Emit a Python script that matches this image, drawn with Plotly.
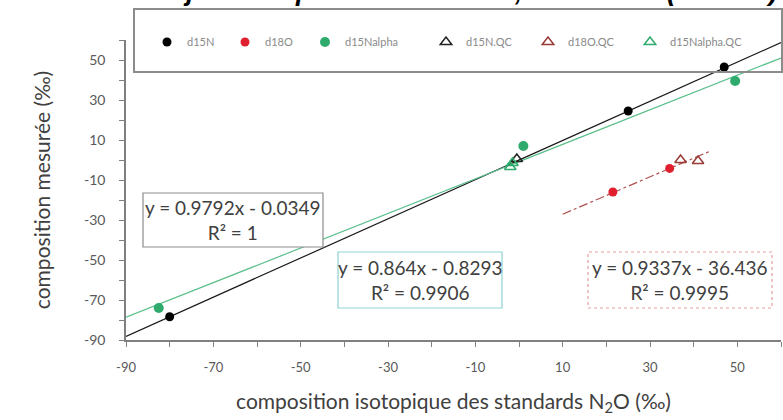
import plotly.graph_objects as go

# ---- data ----
d15N_x = [-80, 25, 47]
d15N_y = [-78.4, 24.5, 46.5]
d18O_x = [21.5, 34.5]
d18O_y = [-16, -4.2]
d15Na_x = [-82.5, 1, 49.5]
d15Na_y = [-74, 7, 39.5]
d15N_qc_x = [-0.5]
d15N_qc_y = [0.5]
d18O_qc_x = [37, 41]
d18O_qc_y = [0, -0.5]
d15Na_qc_x = [-2, -1.5]
d15Na_qc_y = [-3.5, -1.5]

# trendlines (slope, intercept, x-extent)
trend_15N = (0.9792, -0.0349, [-90, 60])
trend_15Na = (0.864, -0.8293, [-90, 60])
trend_18O = (0.9337, -36.436, [10, 44])

x_ticks = [-90, -70, -50, -30, -10, 10, 30, 50]
y_ticks = [-90, -70, -50, -30, -10, 10, 30, 50]
x_ticklabels = [str(v) for v in x_ticks]
y_ticklabels = [str(v) for v in y_ticks]

BLACK = "#000000"
RED = "#e0202e"
GREEN = "#2eab6c"

L, R, T, B = 126, 2, 40, 80
W, H = 783, 420
pw, ph = W - L - R, H - T - B

def px(xp):
    return (xp - L) / pw

def py(yp):
    return (H - B - yp) / ph

FONT = "Lato, 'Open Sans', sans-serif"

fig = go.Figure()

def tl(t):
    m, b, xs = t
    return xs, [m * x + b for x in xs]

fx, fy = tl(trend_15N)
fig.add_trace(go.Scatter(x=fx, y=fy, mode="lines", line=dict(color="#1a1a1a", width=1.2),
                         showlegend=False, hoverinfo="skip"))
fx, fy = tl(trend_15Na)
fig.add_trace(go.Scatter(x=fx, y=fy, mode="lines", line=dict(color="#5cbf8c", width=1.2),
                         showlegend=False, hoverinfo="skip"))
fx, fy = tl(trend_18O)
fig.add_trace(go.Scatter(x=fx, y=fy, mode="lines", line=dict(color="#b05050", width=1.2, dash="dashdot"),
                         showlegend=False, hoverinfo="skip"))

fig.add_trace(go.Scatter(x=d15N_x, y=d15N_y, mode="markers", name="d15N", legend="legend",
                         marker=dict(color=BLACK, size=9)))
fig.add_trace(go.Scatter(x=d18O_x, y=d18O_y, mode="markers", name="d18O", legend="legend2",
                         marker=dict(color=RED, size=9)))
fig.add_trace(go.Scatter(x=d15Na_x, y=d15Na_y, mode="markers", name="d15Nalpha", legend="legend3",
                         marker=dict(color=GREEN, size=10)))
fig.add_trace(go.Scatter(x=d15N_qc_x, y=d15N_qc_y, mode="markers", name="d15N.QC", legend="legend4",
                         marker=dict(color="#222222", size=10, symbol="triangle-up-open", line=dict(width=1.5))))
fig.add_trace(go.Scatter(x=d18O_qc_x, y=d18O_qc_y, mode="markers", name="d18O.QC", legend="legend5",
                         marker=dict(color="#9a3b35", size=10, symbol="triangle-up-open", line=dict(width=1.5))))
fig.add_trace(go.Scatter(x=d15Na_qc_x, y=d15Na_qc_y, mode="markers", name="d15Nalpha.QC", legend="legend6",
                         marker=dict(color=GREEN, size=10, symbol="triangle-up-open", line=dict(width=1.5))))

legend_marker_px = [167, 245, 325, 446, 548, 650]

def leg(xm):
    return dict(orientation="h", x=px(xm - 20), y=py(42), xanchor="left", yanchor="middle",
                bgcolor="rgba(0,0,0,0)", font=dict(size=11, color="#8a8a8a"), itemwidth=30)

fig.update_layout(
    width=W, height=H,
    margin=dict(l=L, r=R, t=T, b=B),
    paper_bgcolor="white", plot_bgcolor="white",
    font=dict(family=FONT, color="#595959"),
    showlegend=True,
    legend=leg(legend_marker_px[0]),
    legend2=leg(legend_marker_px[1]),
    legend3=leg(legend_marker_px[2]),
    legend4=leg(legend_marker_px[3]),
    legend5=leg(legend_marker_px[4]),
    legend6=leg(legend_marker_px[5]),
    xaxis=dict(range=[-90, 60], tickvals=x_ticks, ticktext=x_ticklabels,
               ticks="outside", ticklen=5, tickcolor="#808080", ticklabelstandoff=10,
               showline=True, linecolor="#808080", linewidth=1.5, showgrid=False, zeroline=False,
               minor=dict(dtick=10, tick0=-90, ticks="outside", ticklen=5, tickcolor="#808080"),
               tickfont=dict(size=13, color="#595959"),
               title=dict(text="composition isotopique des standards N<sub>2</sub>O (‰)",
                          font=dict(size=21, color="#404040"), standoff=20)),
    yaxis=dict(range=[-90, 60], tickvals=y_ticks, ticktext=y_ticklabels,
               ticks="outside", ticklen=5, tickcolor="#808080", ticklabelstandoff=11,
               showline=True, linecolor="#808080", linewidth=1.5, showgrid=False, zeroline=False,
               minor=dict(dtick=10, tick0=-90, ticks="outside", ticklen=5, tickcolor="#808080"),
               tickfont=dict(size=14, color="#595959"),
               title=dict(text="composition mesurée (‰)", font=dict(size=21, color="#404040"), standoff=28)),
)

# legend frame
fig.add_shape(type="rect", xref="paper", yref="paper", x0=px(134), x1=px(782), y0=py(72), y1=py(9),
              line=dict(color="#8c8c8c", width=2), fillcolor="rgba(0,0,0,0)", layer="above")

# equation boxes
def eqbox(x0, x1, y0, y1, text, border, dash="solid"):
    fig.add_shape(type="rect", xref="paper", yref="paper", x0=px(x0), x1=px(x1), y0=py(y1), y1=py(y0),
                  line=dict(color=border, width=1.2, dash=dash), fillcolor="white", layer="above")
    fig.add_annotation(xref="paper", yref="paper", x=px((x0 + x1) / 2), y=py((y0 + y1) / 2),
                       xanchor="center", yanchor="middle", text=text, showarrow=False,
                       font=dict(size=19, color="#404040", family=FONT), align="center")

eqbox(143, 323, 193, 247, "y = 0.9792x - 0.0349<br>R² = 1", "#8c8c8c")
eqbox(338, 502, 252, 308, "y = 0.864x - 0.8293<br>R² = 0.9906", "#8fd3d3")
eqbox(588, 772, 252, 308, "y = 0.9337x - 36.436<br>R² = 0.9995", "#e8a0a0", dash="dot")

# cut-off title at top
fig.add_annotation(xref="paper", yref="paper", x=px(-27), y=py(8), xanchor="left", yanchor="bottom",
                   text="<b><i>Calibration du 4 juillet : spectromètre N2O, standards (Picarro)</i></b>",
                   showarrow=False, font=dict(size=27, color="black", family="Liberation Sans"))

fig.write_html("out.html")
